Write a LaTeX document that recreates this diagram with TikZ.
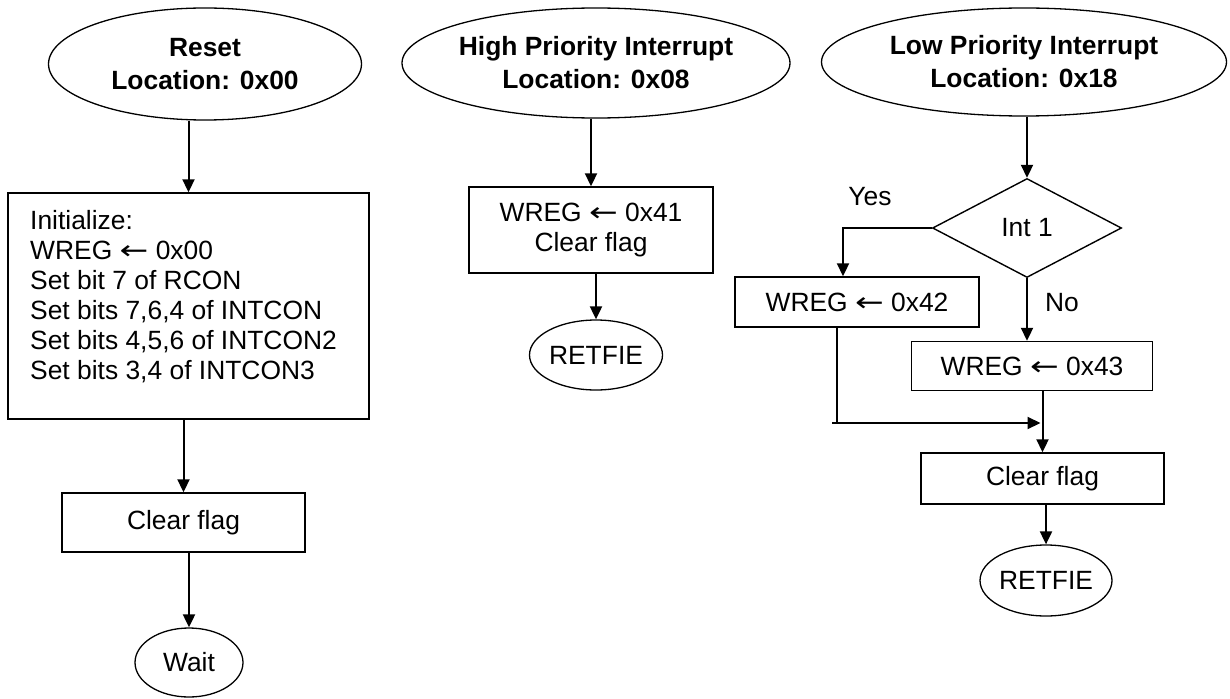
\documentclass[tikz,border=0pt]{standalone}
\usepackage{fontspec}
\usepackage{graphicx}
\setmainfont{Liberation Sans}
\newfontfamily\arrfont{DejaVu Sans}
\usetikzlibrary{shapes.geometric,arrows.meta}

\tikzset{
  box/.style={draw, line width=1.4pt, rectangle, inner sep=0pt},
  oval/.style={draw, line width=1.3pt, ellipse, inner sep=0pt, align=center},
  entry/.style={oval, font=\fontsize{26.4}{33}\selectfont\bfseries},
  arr/.style={line width=2pt, -{Triangle[length=13pt,width=12pt]}},
  link/.style={line width=2pt}
}
\newcommand{\ctr}[1]{\makebox[0pt]{#1}}
\newcommand{\larr}{{\arrfont\scalebox{1.3}[1]{←}}}

\begin{document}
\begin{tikzpicture}[x=1pt, y=-1pt, font=\fontsize{26.4}{30}\selectfont]
  \useasboundingbox (0,0) rectangle (1230,698);

  % reset
  \node[entry, minimum width=313, minimum height=112] (reset) at (205,64)
    {\ctr{Reset}\\\ctr{Location: 0x00}};
  \node[box, minimum width=361, minimum height=226] (init) at (188.5,306) {};
  \node[anchor=north west, align=left, inner sep=0pt] (initText) at (30,210)
    {Initialize:\\WREG \larr{} 0x00\\Set bit 7 of RCON\\Set bits 7,6,4 of INTCON\\
     Set bits 4,5,6 of INTCON2\\Set bits 3,4 of INTCON3};
  \node[box, minimum width=243, minimum height=59] (clr1) at (183.5,522.5) {Clear flag};
  \node[oval, minimum width=108, minimum height=69] (wait) at (189,662.5) {\ctr{Wait}};

  % high priority
  \node[entry, minimum width=388, minimum height=110] (high) at (596,63)
    {\ctr{High Priority Interrupt}\\\ctr{Location: 0x08}};
  \node[box, align=center, minimum width=244, minimum height=86] (hset) at (591,230)
    {WREG \larr{} 0x41\\Clear flag};
  \node[oval, minimum width=133, minimum height=70] (hret) at (596,355) {\ctr{RETFIE}};

  % low priority
  \node[entry, minimum width=405, minimum height=108] (low) at (1024,62)
    {\ctr{Low Priority Interrupt}\\\ctr{Location: 0x18}};
  \node[diamond, draw, line width=1.4pt, inner sep=0pt, minimum width=189,
    minimum height=99] (int) at (1027,228) {Int 1};
  \node[box, minimum width=244, minimum height=50] (yset) at (857,302) {WREG \larr{} 0x42};
  \node[box, minimum width=241, minimum height=49] (nset) at (1032,366) {WREG \larr{} 0x43};
  \node[box, minimum width=243, minimum height=51] (lclr) at (1042.5,478.5) {Clear flag};
  \node[oval, minimum width=132, minimum height=71] (lret) at (1046,580.5) {\ctr{RETFIE}};
  \node (yes) at (870,197) {Yes};
  \node (no) at (1062,303) {No};
  \coordinate (join) at (837,423);
  \coordinate (joinL) at (832,423);

  % spojenia
  \draw[arr] (reset.south -| init.north) -- (init.north);
  \draw[arr] (init.south -| clr1.north) -- (clr1.north);
  \draw[arr] (clr1.south -| wait.north) -- (wait.north);

  \draw[arr] (high.south -| hset.north) -- (hset.north);
  \draw[arr] (hset.south -| hret.north) -- (hret.north);

  \draw[arr] (low.south -| int.north) -- (int.north);
  \draw[arr] (int.west) -| ([xshift=-14pt]yset.north);
  \draw[arr] (int.south) -- (int.south |- nset.north);
  \draw[arr] (nset.south -| lclr.north) -- (lclr.north);
  \draw[link] (yset.south -| join) -- (join);
  \draw[arr] (joinL) -- ([xshift=-2pt]join -| lclr.north);
  \draw[arr] (lclr.south -| lret.north) -- (lret.north);
\end{tikzpicture}
\end{document}
